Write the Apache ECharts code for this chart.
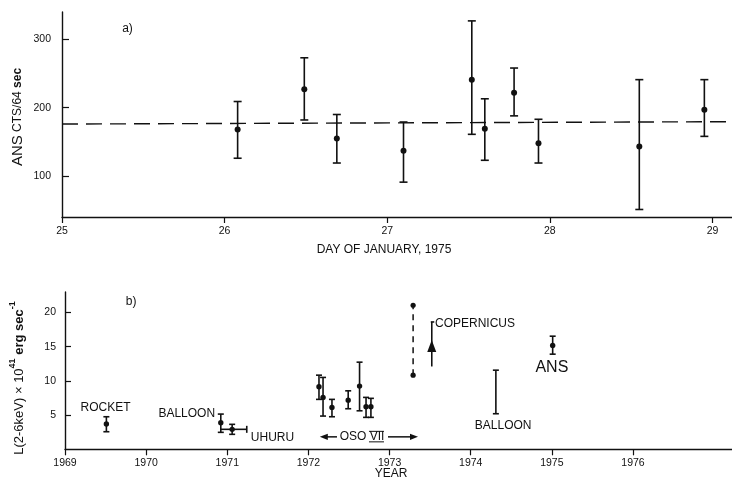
<!DOCTYPE html>
<html><head><meta charset="utf-8">
<script src="https://cdn.jsdelivr.net/npm/echarts@6/dist/echarts.min.js"></script>
<style>html,body{margin:0;padding:0;background:#fff}#c{width:732px;height:485px}</style>
</head><body><div id="c"></div>
<script>
// ---------- Panel a : ANS counts, January 1975 ----------
const aDays   = [26.08, 26.49, 26.69, 27.10, 27.52, 27.60, 27.78, 27.93, 28.55, 28.95];
const aCounts = [168, 227, 155, 137, 241, 169, 222, 148, 143, 197];
const aLow    = [126, 182, 119, 91, 161, 123, 188, 119, 51, 158];
const aHigh   = [209, 273, 190, 179, 327, 213, 258, 183, 241, 241];
const aMeanDays = [25, 29.12];
const aMeanVals = [176, 179.5];
const aXTicks = [25, 26, 27, 28, 29];
const aYTicks = [100, 200, 300];

// ---------- Panel b : luminosity history ----------
const bYears = [1969.51, 1970.92, 1971.06, 1972.13, 1972.18, 1972.29, 1972.49, 1972.63, 1972.71, 1972.77, 1975.01];
const bLum   = [3.69, 3.88, 2.92, 9.14, 7.59, 6.13, 7.19, 9.24, 6.22, 6.22, 15.18];
const bLow   = [2.57, 2.48, 2.19, 7.30, 4.86, 4.76, 5.93, 5.63, 4.67, 4.67, 13.91];
const bHigh  = [4.76, 5.15, 3.65, 10.84, 10.51, 7.30, 8.55, 12.74, 7.59, 7.45, 16.54];
const uhuruYearRange = [1970.92, 1971.24];
const uhuruLum = 2.92;
const copYear = [1973.52], copLum = [14.97], copLow = [12.11], copHigh = [18.62];
const rangeYear = [1973.29], rangeLow = [10.84], rangeHigh = [21.06];
const balloon74Year = [1974.31], balloon74Low = [5.20], balloon74High = [11.57];
const osoSpan = [1972.14, 1973.35];
const bXTicks = [1969, 1970, 1971, 1972, 1973, 1974, 1975, 1976];
const bYTicks = [5, 10, 15, 20];

const INK = '#111111';
const FONT = '"Liberation Sans", Arial, sans-serif';

function errBar(capW, r, withPoint) {
  return function (params, api) {
    const x = api.value(0), y = api.value(1), lo = api.value(2), hi = api.value(3);
    const pl = api.coord([x, lo]), ph = api.coord([x, hi]);
    const st = { stroke: INK, lineWidth: 1.6 };
    const ch = [
      { type: 'line', shape: { x1: pl[0], y1: pl[1], x2: ph[0], y2: ph[1] }, style: st },
      { type: 'line', shape: { x1: pl[0] - capW / 2, y1: pl[1], x2: pl[0] + capW / 2, y2: pl[1] }, style: st },
      { type: 'line', shape: { x1: ph[0] - capW / 2, y1: ph[1], x2: ph[0] + capW / 2, y2: ph[1] }, style: st }
    ];
    if (withPoint) {
      const p = api.coord([x, y]);
      ch.push({ type: 'circle', shape: { cx: p[0], cy: p[1], r: r }, style: { fill: INK } });
    }
    return { type: 'group', children: ch };
  };
}

const axisLine = { show: true, onZero: false, lineStyle: { color: INK, width: 1.4 } };
const lblStyle = { color: INK, fontFamily: FONT, fontSize: 10.5, formatter: v => String(v) };

function txt(name, x, y, pos, size) {
  return {
    name: name, value: [x, y],
    label: { show: true, position: pos, distance: 0, formatter: '{b}', opacity: 1,
      color: INK, fontFamily: FONT, fontSize: size || 12 }
  };
}

const option = {
  backgroundColor: '#fff',
  animation: false,
  grid: [
    { left: 62, top: 12, width: 670, height: 205, outerBoundsMode: 'none' },
    { left: 65, top: 292, width: 667, height: 157.3, outerBoundsMode: 'none' }
  ],
  xAxis: [
    { type: 'value', gridIndex: 0, min: 25, max: 29.12, axisLine,
      splitLine: { show: false },
      axisTick: { show: true, inside: false, length: 6, customValues: aXTicks, lineStyle: { color: INK, width: 1.2 } },
      axisLabel: Object.assign({ margin: 9, customValues: aXTicks }, lblStyle) },
    { type: 'value', gridIndex: 1, min: 1969, max: 1977.22, axisLine,
      splitLine: { show: false },
      axisTick: { show: true, inside: false, length: 6, customValues: bXTicks, lineStyle: { color: INK, width: 1.2 } },
      axisLabel: Object.assign({ margin: 8, customValues: bXTicks }, lblStyle) }
  ],
  yAxis: [
    { type: 'value', gridIndex: 0, min: 40, max: 340, axisLine,
      splitLine: { show: false },
      axisTick: { show: true, inside: true, length: 7, customValues: aYTicks, lineStyle: { color: INK, width: 1.2 } },
      axisLabel: Object.assign({ margin: 11, customValues: aYTicks }, lblStyle) },
    { type: 'value', gridIndex: 1, min: 0, max: 23, axisLine,
      splitLine: { show: false },
      axisTick: { show: true, inside: true, length: 6, customValues: bYTicks, lineStyle: { color: INK, width: 1.2 } },
      axisLabel: Object.assign({ margin: 9, customValues: bYTicks }, lblStyle) }
  ],
  series: [
    { type: 'line', xAxisIndex: 0, yAxisIndex: 0, silent: true, symbol: 'none',
      data: aMeanDays.map((d, i) => [d, aMeanVals[i]]),
      lineStyle: { color: INK, width: 1.4, type: [16, 8] } },
    { type: 'custom', xAxisIndex: 0, yAxisIndex: 0, silent: true,
      renderItem: errBar(8, 3, true),
      encode: { x: 0, y: [1, 2, 3] },
      data: aDays.map((d, i) => [d, aCounts[i], aLow[i], aHigh[i]]) },
    { type: 'custom', xAxisIndex: 1, yAxisIndex: 1, silent: true,
      renderItem: errBar(6, 2.7, true),
      encode: { x: 0, y: [1, 2, 3] },
      data: bYears.map((d, i) => [d, bLum[i], bLow[i], bHigh[i]]) },
    { type: 'custom', xAxisIndex: 1, yAxisIndex: 1, silent: true,
      renderItem: errBar(6, 0, false),
      encode: { x: 0, y: [2, 3] },
      data: balloon74Year.map((d, i) => [d, 0, balloon74Low[i], balloon74High[i]]) },
    { type: 'custom', xAxisIndex: 1, yAxisIndex: 1, silent: true,
      renderItem: function (params, api) {
        const a = api.coord([api.value(0), api.value(2)]), b = api.coord([api.value(1), api.value(2)]);
        const st = { stroke: INK, lineWidth: 1.6 };
        return { type: 'group', children: [
          { type: 'line', shape: { x1: a[0], y1: a[1], x2: b[0], y2: b[1] }, style: st },
          { type: 'line', shape: { x1: b[0], y1: b[1] - 3.5, x2: b[0], y2: b[1] + 3.5 }, style: st }
        ] };
      },
      encode: { x: [0, 1], y: 2 },
      data: [[uhuruYearRange[0], uhuruYearRange[1], uhuruLum]] },
    { type: 'custom', xAxisIndex: 1, yAxisIndex: 1, silent: true,
      renderItem: function (params, api) {
        const a = api.coord([api.value(0), api.value(1)]), b = api.coord([api.value(0), api.value(2)]);
        return { type: 'group', children: [
          { type: 'line', shape: { x1: a[0], y1: a[1], x2: b[0], y2: b[1] }, style: { stroke: INK, lineWidth: 1.5, lineDash: [6, 5] } },
          { type: 'circle', shape: { cx: a[0], cy: a[1], r: 2.6 }, style: { fill: INK } },
          { type: 'circle', shape: { cx: b[0], cy: b[1], r: 2.6 }, style: { fill: INK } }
        ] };
      },
      encode: { x: 0, y: [1, 2] },
      data: rangeYear.map((d, i) => [d, rangeLow[i], rangeHigh[i]]) },
    { type: 'custom', xAxisIndex: 1, yAxisIndex: 1, silent: true,
      renderItem: function (params, api) {
        const x = api.value(0);
        const p = api.coord([x, api.value(1)]), lo = api.coord([x, api.value(2)]), hi = api.coord([x, api.value(3)]);
        const st = { stroke: INK, lineWidth: 1.6 };
        return { type: 'group', children: [
          { type: 'line', shape: { x1: lo[0], y1: lo[1], x2: hi[0], y2: hi[1] }, style: st },
          { type: 'line', shape: { x1: hi[0] - 1, y1: hi[1], x2: hi[0] + 2.5, y2: hi[1] }, style: st },
          { type: 'polygon', shape: { points: [[p[0], p[1] - 7], [p[0] - 4.5, p[1] + 5], [p[0] + 4.5, p[1] + 5]] }, style: { fill: INK } }
        ] };
      },
      encode: { x: 0, y: [1, 2, 3] },
      data: copYear.map((d, i) => [d, copLum[i], copLow[i], copHigh[i]]) },
    { type: 'custom', xAxisIndex: 1, yAxisIndex: 1, silent: true,
      renderItem: function (params, api) {
        const y = api.value(2);
        const a = api.coord([api.value(0), y]), b = api.coord([api.value(1), y]);
        const c = api.coord([api.value(3), y]);
        const st = { stroke: INK, lineWidth: 1.5 };
        const half = 23;
        return { type: 'group', children: [
          { type: 'line', shape: { x1: a[0] + 5, y1: a[1], x2: c[0] - half - 2, y2: a[1] }, style: st },
          { type: 'polygon', shape: { points: [[a[0], a[1]], [a[0] + 8, a[1] - 3.2], [a[0] + 8, a[1] + 3.2]] }, style: { fill: INK } },
          { type: 'line', shape: { x1: c[0] + half + 3, y1: b[1], x2: b[0] - 5, y2: b[1] }, style: st },
          { type: 'polygon', shape: { points: [[b[0], b[1]], [b[0] - 8, b[1] - 3.2], [b[0] - 8, b[1] + 3.2]] }, style: { fill: INK } },
          { type: 'text', x: c[0], y: c[1], style: { text: 'OSO VII', fill: INK, font: '12px ' + FONT, align: 'center', verticalAlign: 'middle' } },
          { type: 'line', shape: { x1: c[0] + 7, y1: c[1] - 5.5, x2: c[0] + 22, y2: c[1] - 5.5 }, style: { stroke: INK, lineWidth: 1 } },
          { type: 'line', shape: { x1: c[0] + 7, y1: c[1] + 5, x2: c[0] + 22, y2: c[1] + 5 }, style: { stroke: INK, lineWidth: 1 } }
        ] };
      },
      encode: { x: [0, 1], y: 2 },
      data: [[osoSpan[0], osoSpan[1], 1.82, 1972.66]] },
    { type: 'scatter', xAxisIndex: 0, yAxisIndex: 0, silent: true, symbolSize: 0,
      itemStyle: { opacity: 1 },
      data: [ txt('a)', 25.37, 316, 'right', 12) ] },
    { type: 'scatter', xAxisIndex: 1, yAxisIndex: 1, silent: true, symbolSize: 0,
      itemStyle: { opacity: 1 },
      data: [
        txt('b)', 1969.75, 21.55, 'right', 12),
        txt('ROCKET', 1969.50, 6.13, 'inside', 12),
        txt('BALLOON', 1970.85, 5.25, 'left', 12),
        txt('UHURU', 1971.29, 1.69, 'right', 12),
        txt('COPERNICUS', 1973.56, 18.39, 'right', 12),
        txt('BALLOON', 1974.40, 3.40, 'inside', 12),
        txt('ANS', 1975.00, 11.91, 'inside', 16)
      ] }
  ],
  graphic: [
    { type: 'text', x: 384, y: 250, silent: true,
      style: { text: 'DAY OF JANUARY, 1975', fill: INK, font: '12px ' + FONT, align: 'center', verticalAlign: 'middle' } },
    { type: 'text', x: 391, y: 474, silent: true,
      style: { text: 'YEAR', fill: INK, font: '12px ' + FONT, align: 'center', verticalAlign: 'middle' } },
    { type: 'text', x: 18, y: 117, rotation: Math.PI / 2, silent: true,
      style: { text: '{a|ANS} {b|CTS/64} {c|sec}', align: 'center', verticalAlign: 'middle',
        rich: { a: { fontSize: 15, fontFamily: FONT, fill: INK, color: INK },
                b: { fontSize: 12, fontFamily: FONT, fill: INK, color: INK },
                c: { fontSize: 12, fontFamily: FONT, fontWeight: 'bold', fill: INK, color: INK } } } },
    { type: 'text', x: 17, y: 378, rotation: Math.PI / 2, silent: true,
      style: { text: '{n|L(2-6keV) × 10}{s|41}{m| erg sec}{s|-1}', align: 'center', verticalAlign: 'middle',
        rich: { n: { fontSize: 13, fontFamily: FONT, fill: INK, color: INK, lineHeight: 18, verticalAlign: 'bottom' },
                m: { fontSize: 13, fontFamily: FONT, fontWeight: 'bold', fill: INK, color: INK, lineHeight: 18, verticalAlign: 'bottom' },
                s: { fontSize: 9, fontFamily: FONT, fontWeight: 'bold', fill: INK, color: INK, lineHeight: 18, verticalAlign: 'top' } } } }
  ]
};

const chart = echarts.init(document.getElementById('c'), null, { renderer: 'canvas' });
chart.setOption(option);
</script>
</body></html>
